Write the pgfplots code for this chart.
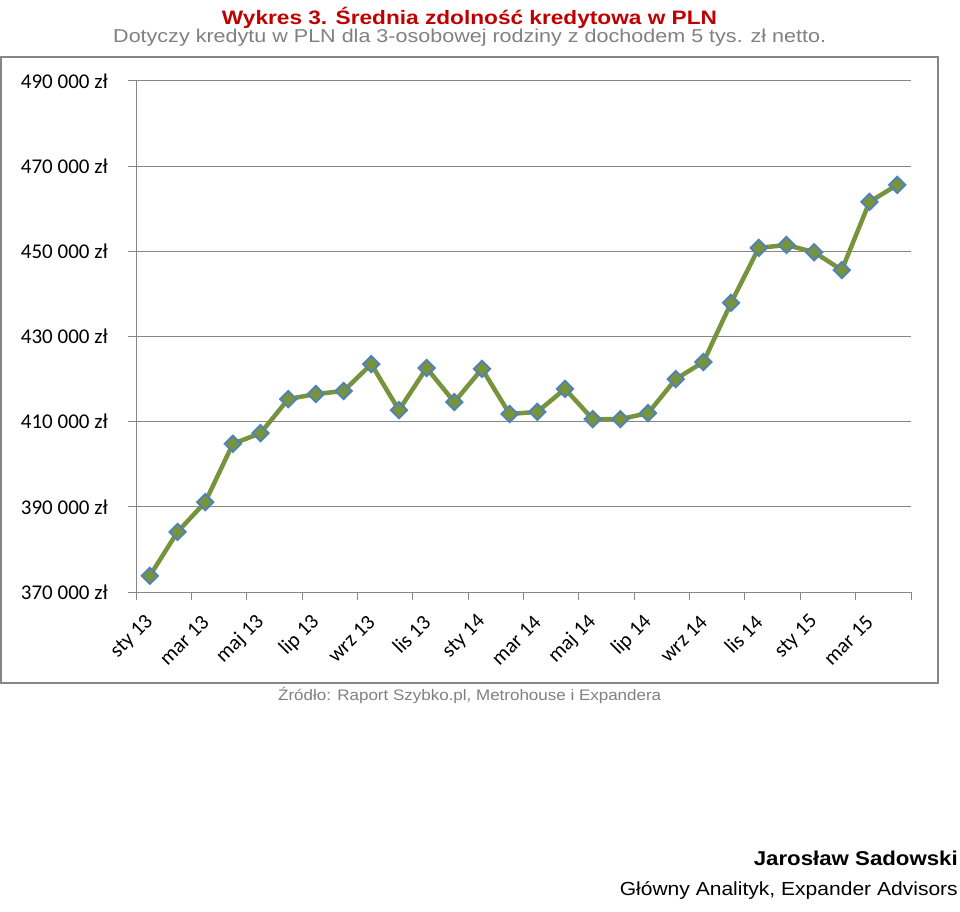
\documentclass[border=0pt]{standalone}
\usepackage{pgfplots}
\pgfplotsset{compat=1.18}
\usepackage{graphicx}
\usepackage{fontspec}
\setmainfont{Carlito}
\newfontfamily\lib{Liberation Sans}
\definecolor{titlered}{RGB}{192,0,0}
\definecolor{subgray}{RGB}{128,128,128}
\definecolor{gridgray}{RGB}{134,134,134}
\definecolor{linegreen}{RGB}{119,147,60}
\definecolor{markblue}{RGB}{79,129,189}
\pgfplotstableread{
x y
1 373800
2 384100
3 391100
4 404800
5 407300
6 415300
7 416500
8 417200
9 423500
10 412700
11 422600
12 414600
13 422400
14 411800
15 412300
16 417700
17 410600
18 410600
19 412000
20 420000
21 424000
22 437900
23 450800
24 451500
25 449800
26 445600
27 461600
28 465600
}\datatable
\begin{document}
\begin{tikzpicture}[x=1pt,y=1pt]
\path[use as bounding box] (0,0) rectangle (960,911);
\draw[gridgray, line width=2pt] (1,854) rectangle (938,228);
\begin{axis}[
  at={(136pt,319pt)}, anchor=south west,
  scale only axis, width=775pt, height=511pt,
  xmin=0.5, xmax=28.5, ymin=370000, ymax=490000,
  clip=false,
  scaled y ticks=false,
  axis lines=left,
  axis line style={-, draw=gridgray, line width=1pt},
  ytick={370000,390000,410000,430000,450000,470000,490000},
  yticklabels={370 000 zł,390 000 zł,410 000 zł,430 000 zł,450 000 zł,470 000 zł,490 000 zł},
  ymajorgrids,
  major grid style={draw=gridgray, line width=1pt},
  xtick={0.5,2.5,...,28.5},
  xticklabels={},
  extra x ticks={1,3,...,27},
  extra x tick labels={sty 13,mar 13,maj 13,lip 13,wrz 13,lis 13,sty 14,mar 14,maj 14,lip 14,wrz 14,lis 14,sty 15,mar 15},
  extra x tick style={major tick length=0pt, xticklabel style={xshift=1pt, yshift=-26pt, rotate=45, anchor=east, inner sep=1pt}},
  tick align=outside,
  major tick length=8pt,
  tick style={draw=gridgray, line width=1pt},
  ticklabel style={font=\fontsize{21}{25}\selectfont},
  yticklabel style={anchor=east, inner sep=0pt, xshift=-20pt},
]
\addplot[linegreen, line width=4.5pt, mark=square*, mark size=5.8pt,
  mark options={rotate=45, fill=linegreen, draw=markblue, line width=1.8pt, solid}]
  table[x=x, y=y] {\datatable};
\end{axis}
\node[anchor=base, inner sep=0pt] at (469.5,886) {\scalebox{1}[0.86]{\resizebox{495pt}{!}{\lib\bfseries\color{titlered}Wykres 3. Średnia zdolność kredytowa w PLN}}};
\node[anchor=base west, inner sep=0pt] at (113,868.3) {\scalebox{1}[0.865]{\resizebox{713pt}{!}{\lib\color{subgray}Dotyczy kredytu w PLN dla 3-osobowej rodziny z dochodem 5 tys. zł netto.}}};
\node[anchor=base west, inner sep=0pt] at (278,211) {\scalebox{1}[0.9]{\resizebox{383pt}{!}{\lib\color{subgray}Źródło: Raport Szybko.pl, Metrohouse i Expandera}}};
\node[anchor=base east, inner sep=0pt] at (958,46) {\scalebox{1}[0.9]{\resizebox{204pt}{!}{\lib\bfseries Jarosław Sadowski}}};
\node[anchor=base east, inner sep=0pt] at (958,16) {\scalebox{1}[0.9]{\resizebox{338pt}{!}{\lib Główny Analityk, Expander Advisors}}};
\end{tikzpicture}
\end{document}
